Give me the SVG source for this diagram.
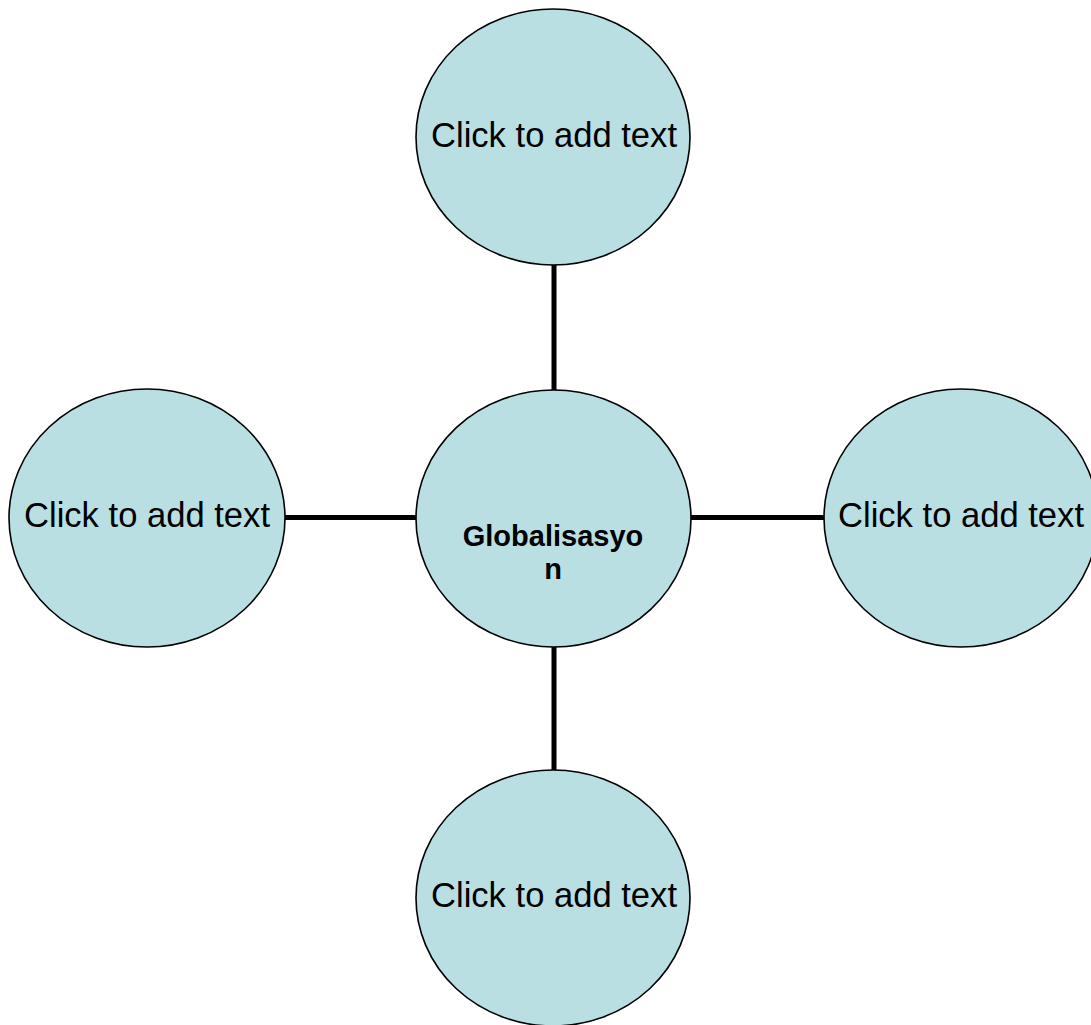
<svg xmlns="http://www.w3.org/2000/svg" width="1091" height="1025" viewBox="0 0 1091 1025">
<style>
.node ellipse{fill:#B9DFE3;stroke:#000;stroke-width:1.6}
.lbl{font-family:"Liberation Sans",Arial,sans-serif;font-size:34.6px;fill:#000;text-anchor:middle}
.center{font-family:"Liberation Sans",Arial,sans-serif;font-size:29px;font-weight:bold;fill:#000;text-anchor:middle}
.conn line{stroke:#000;stroke-width:5}
</style>
<rect width="1091" height="1025" fill="#fff"/>
<g id="connectors" class="conn">
<line x1="554" y1="264" x2="554" y2="391"/>
<line x1="554" y1="646" x2="554" y2="771"/>
<line x1="284" y1="517.5" x2="417" y2="517.5"/>
<line x1="690" y1="517.5" x2="825" y2="517.5"/>
</g>
<g id="node-top" class="node">
<ellipse cx="553" cy="137" rx="137" ry="128"/>
<text class="lbl" x="554" y="147">Click to add text</text>
</g>
<g id="node-left" class="node">
<ellipse cx="147" cy="518" rx="138" ry="129"/>
<text class="lbl" x="147" y="527">Click to add text</text>
</g>
<g id="node-right" class="node">
<ellipse cx="961" cy="518" rx="137" ry="129"/>
<text class="lbl" x="961" y="527">Click to add text</text>
</g>
<g id="node-bottom" class="node">
<ellipse cx="553" cy="898" rx="137" ry="128"/>
<text class="lbl" x="554" y="907">Click to add text</text>
</g>
<g id="node-center" class="node">
<ellipse cx="553.5" cy="518.5" rx="137.5" ry="128.5"/>
<text class="center" x="553" y="546">Globalisasyo</text>
<text class="center" x="553" y="579">n</text>
</g>
</svg>
